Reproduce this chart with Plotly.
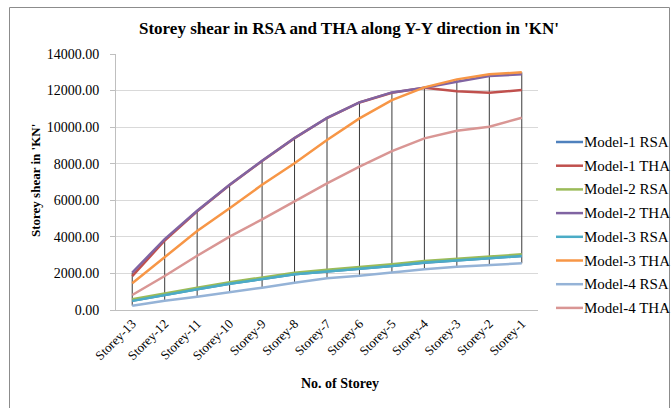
import plotly.graph_objects as go

storeys = ["Storey-13", "Storey-12", "Storey-11", "Storey-10", "Storey-9", "Storey-8",
           "Storey-7", "Storey-6", "Storey-5", "Storey-4", "Storey-3", "Storey-2", "Storey-1"]

model1_rsa = [500, 830, 1130, 1430, 1680, 1950, 2110, 2250, 2410, 2590, 2700, 2826, 2952]
model1_tha = [1850, 3800, 5400, 6830, 8150, 9400, 10500, 11350, 11880, 12150, 11960, 11880, 12030]
model2_rsa = [585, 913, 1219, 1516, 1766, 2040, 2200, 2334, 2499, 2679, 2788, 2914, 3045]
model2_tha = [2050, 3874, 5425, 6849, 8164, 9406, 10504, 11356, 11900, 12150, 12483, 12794, 12887]
model3_rsa = [500, 830, 1130, 1430, 1680, 1950, 2110, 2250, 2410, 2600, 2700, 2826, 2952]
model3_tha = [1460, 2914, 4320, 5560, 6849, 8021, 9296, 10481, 11480, 12175, 12613, 12887, 12996]
model4_rsa = [235, 508, 727, 968, 1219, 1493, 1733, 1876, 2061, 2225, 2367, 2460, 2553]
model4_tha = [820, 1859, 2969, 4008, 4959, 5921, 6928, 7835, 8693, 9388, 9803, 10022, 10514]

series_names = ["Model-1 RSA", "Model-1 THA", "Model-2 RSA", "Model-2 THA",
                "Model-3 RSA", "Model-3 THA", "Model-4 RSA", "Model-4 THA"]
series_values = [model1_rsa, model1_tha, model2_rsa, model2_tha,
                 model3_rsa, model3_tha, model4_rsa, model4_tha]
series_colors = ["#4F81BD", "#C0504D", "#9BBB59", "#8064A2",
                 "#4BACC6", "#F79646", "#95B3D7", "#D99694"]

y_tickvals = [0, 2000, 4000, 6000, 8000, 10000, 12000, 14000]
y_ticktext = ["%.2f" % v for v in y_tickvals]

W, H = 671, 408
L, R, T, B = 116, 133, 54, 98
pw, ph = W - L - R, H - T - B


def px_x(x):
    return (x - L) / pw


def px_y(y):
    return 1 - (y - T) / ph


fig = go.Figure()

# high-low lines
hx, hy = [], []
for i, s in enumerate(storeys):
    vals = [sv[i] for sv in series_values]
    hx += [s, s, None]
    hy += [min(vals), max(vals), None]
fig.add_trace(go.Scatter(x=hx, y=hy, mode="lines", line=dict(color="#3a3a3a", width=1),
                         showlegend=False, hoverinfo="skip"))

for name, vals, col in zip(series_names, series_values, series_colors):
    fig.add_trace(go.Scatter(x=storeys, y=vals, mode="lines", name=name,
                             showlegend=False,
                             line=dict(color=col, width=2.5)))

serif = "Liberation Serif, Times New Roman, serif"

annotations = [
    dict(text="<b>Storey shear in RSA and THA along Y-Y direction in 'KN'</b>",
         xref="paper", yref="paper", x=px_x(349), y=px_y(28),
         xanchor="center", yanchor="middle", showarrow=False,
         font=dict(family=serif, size=17)),
    dict(text="<b>Storey shear in 'KN'</b>", textangle=-90,
         xref="paper", yref="paper", x=px_x(35), y=px_y(181),
         xanchor="center", yanchor="middle", showarrow=False,
         font=dict(family=serif, size=13)),
    dict(text="<b>No. of Storey</b>",
         xref="paper", yref="paper", x=px_x(340), y=px_y(383),
         xanchor="center", yanchor="middle", showarrow=False,
         font=dict(family=serif, size=14)),
]
shapes = [
    dict(type="rect", xref="paper", yref="paper",
         x0=px_x(9.5), x1=px_x(669.5), y0=px_y(430), y1=px_y(7.5),
         line=dict(color="#8C8C8C", width=1), fillcolor="rgba(0,0,0,0)", layer="below"),
]

# legend (drawn manually to match spacing)
for i, (name, col) in enumerate(zip(series_names, series_colors)):
    yy = 142 + i * 23.7
    shapes.append(dict(type="line", xref="paper", yref="paper",
                       x0=px_x(556), x1=px_x(583), y0=px_y(yy), y1=px_y(yy),
                       line=dict(color=col, width=2.5)))
    annotations.append(dict(text=name, xref="paper", yref="paper",
                            x=px_x(582), y=px_y(yy), xanchor="left", yanchor="middle",
                            showarrow=False, font=dict(family=serif, size=15, color="#000")))

fig.update_layout(
    width=W, height=H,
    margin=dict(l=L, r=R, t=T, b=B, autoexpand=False),
    paper_bgcolor="white", plot_bgcolor="white",
    font=dict(family=serif, color="#000000", size=13),
    showlegend=False,
    xaxis=dict(type="category", range=[-0.5, 12.5], showgrid=False,
               showline=True, linecolor="#BFBFBF", linewidth=1,
               ticks="", tickangle=-45, tickfont=dict(family=serif, size=13)),
    yaxis=dict(range=[0, 14000], tickvals=y_tickvals, ticktext=y_ticktext,
               showgrid=True, gridcolor="#D9D9D9", gridwidth=1,
               showline=True, linecolor="#BFBFBF", linewidth=1,
               ticks="outside", ticklen=5, tickcolor="#BFBFBF", ticklabelstandoff=8,
               tickfont=dict(family=serif, size=14), zeroline=False),
    annotations=annotations,
    shapes=shapes,
)

fig.write_html("out.html", config={"displayModeBar": False},
               post_script="document.body.style.margin='0';")
